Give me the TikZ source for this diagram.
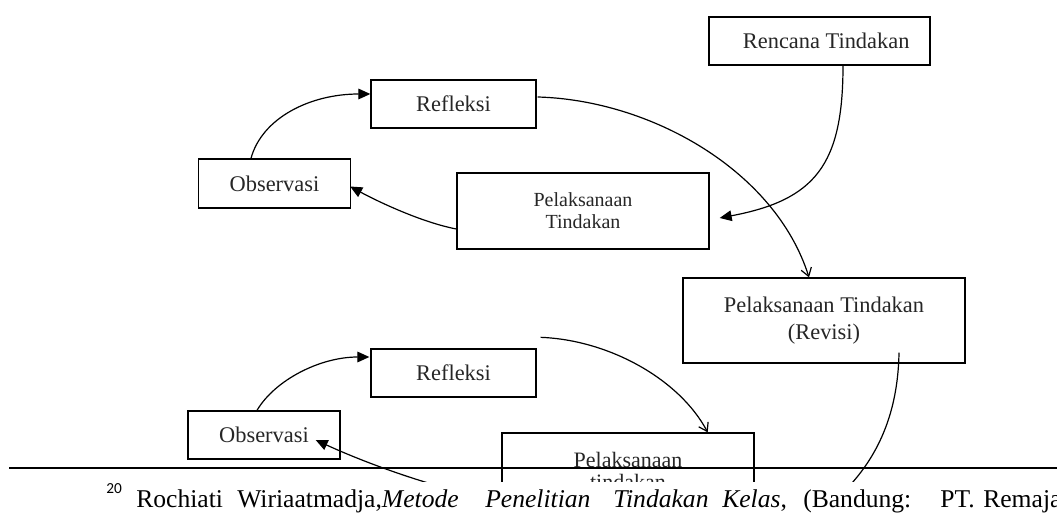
\documentclass[tikz,border=0pt]{standalone}
\usepackage{fontspec}
\setmainfont{Liberation Serif}
\newfontfamily\notefont{Carlito}
\usetikzlibrary{arrows.meta,calc}

\begin{document}
\begin{tikzpicture}[x=0.75pt,y=0.75pt,yscale=-1,xscale=1,
  stagebox/.style={draw,line width=1pt,inner sep=0pt,align=center,text=black!85,font=\fontsize{16.8}{20}\selectfont},
  flow/.style={line width=0.9pt,-{Triangle[length=9pt,width=8pt]}},
  flowopen/.style={line width=0.9pt,-{Straight Barb[length=6pt,width=8pt]}},
  plainflow/.style={line width=0.9pt},
  noteword/.style={anchor=base west,inner sep=0pt,font=\fontsize{19.2}{23}\selectfont}]
\useasboundingbox (0,0) rectangle (1057,513);

\begin{scope}
\clip (0,0) rectangle (1057,481);
%Shape: Rectangle [id:rencana]
\draw (819.5,41) node [stagebox,minimum width=165.75pt,minimum height=36pt] (rencana) {\hspace{10pt}Rencana Tindakan};
%Shape: Rectangle [id:refA]
\draw (453.5,104) node [stagebox,minimum width=123.75pt,minimum height=36pt] (refA) {Refleksi};
%Shape: Rectangle [id:obsA]
\draw (274.5,183.5) node [stagebox,minimum width=114pt,minimum height=36.75pt] (obsA) {Observasi};
%Shape: Rectangle [id:pelA]
\draw (583,211) node [stagebox,minimum width=189pt,minimum height=57pt,font=\fontsize{15}{16.5}\selectfont] (pelA) {Pelaksanaan\\Tindakan};
%Shape: Rectangle [id:revisi]
\draw (824,320.5) node [stagebox,minimum width=211.5pt,minimum height=63.75pt,font=\fontsize{16.8}{20}\selectfont] (revisi) {Pelaksanaan Tindakan\\(Revisi)};
%Shape: Rectangle [id:refB]
\draw (453.5,373) node [stagebox,minimum width=123.75pt,minimum height=36pt] (refB) {Refleksi};
%Shape: Rectangle [id:obsB]
\draw (264,435) node [stagebox,minimum width=114pt,minimum height=36pt] (obsB) {Observasi};
%Shape: Rectangle [id:pelB]
\draw (628,471) node [stagebox,minimum width=189pt,minimum height=57pt,font=\fontsize{16.5}{16.5}\selectfont] (pelB) {Pelaksanaan\\tindakan};

%Curved Lines [id:obsA-refA]
\draw [flow] ($(obsA.north)+(-23.5,0)$) .. controls (262,118) and (310,94) .. ($(refA.west)+(0,-10)$);
%Curved Lines [id:refA-revisi]
\draw [flowopen] ($(refA.east)+(1,-7)$) .. controls (650,100) and (775,170) .. ($(revisi.north)+(-15,0)$);
%Curved Lines [id:rencana-pelA]
\draw [flow] ($(rencana.south)+(23.5,0)$) .. controls (843,165) and (815,200) .. ($(pelA.east)+(10,7)$);
%Curved Lines [id:pelA-obsA]
\draw [flow] ($(pelA.west)+(0,18)$) .. controls (420,222) and (375,200) .. ($(obsA.east)+(-1,3)$);
%Curved Lines [id:revisi-out]
\coordinate (revOut) at (835,500);
\draw [plainflow] ($(revisi.south)+(75,-11)$) .. controls (898,410) and (880,460) .. (revOut);
%Curved Lines [id:refB-pelB]
\coordinate (refBOut) at ($(refB.north east)+(4,-11)$);
\draw [flowopen] (refBOut) .. controls (610,340) and (680,380) .. ($(pelB.north east)+(-47,0)$);
%Curved Lines [id:obsB-refB]
\draw [flow] ($(obsB.north)+(-7,0)$) .. controls (275,380) and (320,357) .. ($(refB.west)+(-1,-16)$);
%Curved Lines [id:pelB-obsB]
\draw [flow] ($(pelB.west)+(0,30)$) .. controls (440,490) and (370,465) .. ($(obsB.east)+(-25,5)$);
\end{scope}

%Straight Lines [id:footrule]
\draw [line width=1.1pt] (9,468) -- (1057,468);

% Text Node
\draw (106,493) node [anchor=base west,inner sep=0pt,font=\notefont\fontsize{11.5}{13}\selectfont] (fnmark) {20};
% Text Node
\draw (136,507) node [noteword] (fnA) {Rochiati};
% Text Node
\draw (237,507) node [noteword] (fnB) {Wiriaatmadja,\textit{Metode}};
% Text Node
\draw (485,507) node [noteword] (fnC) {\textit{Penelitian}};
% Text Node
\draw (613,507) node [noteword] (fnD) {\textit{Tindakan}};
% Text Node
\draw (722,507) node [noteword] (fnE) {\textit{Kelas},};
% Text Node
\draw (803,507) node [noteword] (fnF) {(Bandung:};
% Text Node
\draw (940,507) node [noteword] (fnG) {PT.};
% Text Node
\draw (983,507) node [noteword] (fnH) {Remaja};

\end{tikzpicture}
\end{document}
